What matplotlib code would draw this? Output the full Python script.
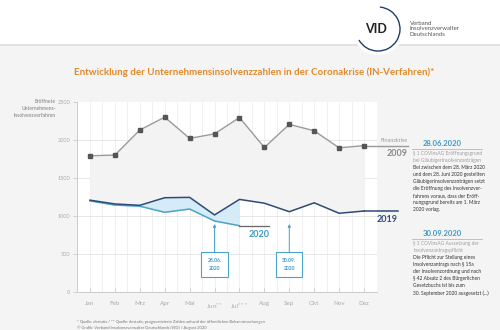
import numpy as np
import matplotlib.pyplot as plt
from matplotlib.patches import Rectangle, Circle, Arc

plt.rcParams['font.family'] = ['Lato', 'DejaVu Sans']

months = ['Jan', 'Feb', 'Mrz', 'Apr', 'Mai', 'Jun', 'Jul', 'Aug', 'Sep', 'Okt', 'Nov', 'Dez']
month_sup = ['', '', '', '', '', '**', '***', '', '', '', '', '']
v2009 = [1790, 1800, 2130, 2300, 2020, 2080, 2295, 1900, 2205, 2120, 1895, 1925]
v2019 = [1205, 1155, 1137, 1237, 1242, 1010, 1215, 1165, 1053, 1170, 1032, 1062]
v2020 = [1195, 1140, 1125, 1045, 1088, 930, 868]
events = [('28.06.\n2020', 6), ('30.09.\n2020', 9)]

W, H = 500, 330
def fx(x):
    return x / W
def fy(y):
    return 1 - y / H

fig = plt.figure(figsize=(5, 3.3), dpi=100)
fig.patch.set_facecolor('#f4f4f4')

# header band
fig.add_artist(Rectangle((0, fy(44)), 1, 44 / H, transform=fig.transFigure,
                         facecolor='white', edgecolor='none', zorder=0))
fig.add_artist(Rectangle((0, fy(46)), 1, 2 / H, transform=fig.transFigure,
                         facecolor='#e2e2e2', edgecolor='none', zorder=0))

x = np.arange(1, 13)
ax = fig.add_axes([fx(77), fy(291.5), fx(300), 189.5 / H])
ax.set_facecolor('white')
ax.set_xlim(0.48, 12.52)
ax.set_ylim(0, 2500)

for xv in np.arange(0.5, 12.6, 0.5):
    ax.axvline(xv, color='#ececec', lw=0.6, zorder=0)
for yv in [500, 1000, 1500, 2000]:
    ax.axhline(yv, color='#e4e4e4', lw=0.6, zorder=0)

# 2009
ax.fill_between(x, v2009, v2019, color='#f3f3f3', zorder=1, lw=0)
ax.plot(x, v2009, color='#9a9a9a', lw=1.0, zorder=3)
ax.plot(x, v2009, 's', color='#555555', ms=2.2, zorder=4)
ax.plot([12, 13.75], [v2009[-1], v2009[-1]], color='#9a9a9a', lw=1.0, clip_on=False)

# 2020 vs 2019
x20 = x[:len(v2020)]
ax.fill_between(x20, v2019[:len(v2020)], v2020, color='#d5ebf7', zorder=2, lw=0)
ax.plot(x20, v2020, color='#4aa3c8', lw=1.1, zorder=5)
ax.plot([7, 8.2], [v2020[-1], v2020[-1]], color='#666666', lw=0.9, zorder=5)
ax.plot(x, v2019, color='#2f4b75', lw=1.1, zorder=6)
ax.plot([12, 13.35], [v2019[-1], v2019[-1]], color='#2f4b75', lw=1.1, clip_on=False)

ax.text(8.2, v2020[-1] - 60, '2020', color='#3d9ac4', fontsize=6.5, fontweight='bold',
        ha='right', va='top')
ax.text(13.35, v2019[-1] - 50, '2019', color='#2f4b75', fontsize=6.5, fontweight='bold',
        ha='right', va='top', clip_on=False)
ax.text(13.75, v2009[-1] + 40, 'Finanzkrise', color='#999999', fontsize=4,
        ha='right', va='bottom', clip_on=False)
ax.text(13.75, v2009[-1] - 50, '2009', color='#888888', fontsize=6.5, fontweight='bold',
        ha='right', va='top', clip_on=False)

# event boxes
for lbl, m in events:
    ax.annotate('', xy=(m, 890), xytext=(m, 515),
                arrowprops=dict(arrowstyle='-|>', color='#4aa3c8', lw=0.7,
                                mutation_scale=4, shrinkA=0, shrinkB=0), zorder=7)
    ax.text(m, 355, lbl, ha='center', va='center', fontsize=3.6, fontweight='bold',
            color='#3d9ac4', linespacing=1.6, zorder=8,
            bbox=dict(boxstyle='square,pad=1.2', fc='white', ec='#4aa3c8', lw=0.8))

ax.set_yticks([0, 500, 1000, 1500, 2000, 2500])
ax.set_yticklabels(['0', '500', '1000', '1500', '2000', '2500'])
ax.set_xticks(x)
ax.set_xticklabels([m + ('$^{' + s + '}$' if s else '') for m, s in zip(months, month_sup)])
ax.tick_params(axis='y', colors='#cccccc', labelcolor='#aaaaaa', labelsize=4.0,
               length=3, width=0.6, pad=2)
ax.tick_params(axis='x', colors='#cccccc', labelcolor='#aaaaaa', labelsize=4.5,
               length=3, width=0.6, direction='in', pad=7)
for s in ['top', 'right']:
    ax.spines[s].set_visible(False)
ax.spines['left'].set_color('#cccccc')
ax.spines['bottom'].set_color('#cccccc')
ax.spines['left'].set_linewidth(0.7)
ax.spines['bottom'].set_linewidth(0.7)

fig.text(fx(56), fy(99), 'Eröffnete\nUnternehmens-\ninsolvenzverfahren', ha='right', va='top',
         fontsize=3.6, color='#999999', fontweight='bold', linespacing=1.5)

# title
fig.text(0.5 + fx(4), fy(72), 'Entwicklung der Unternehmensinsolvenzzahlen in der Coronakrise (IN-Verfahren)*',
         ha='center', va='center', fontsize=7.0, fontweight='bold', color='#e08a2c')

# logo
lax = fig.add_axes([fx(348), fy(59), 60 / W, 60 / H])
lax.set_zorder(3)
lax.set_xlim(-30, 30)
lax.set_ylim(-30, 30)
lax.set_aspect('equal')
lax.axis('off')
lax.add_patch(Circle((0, 0), 26, facecolor='white', edgecolor='none'))
lax.add_patch(Arc((0, 0), 44, 44, theta1=-150, theta2=85, color='#1f3f6e', lw=1.0))
lax.text(-2, 0, 'VID', ha='center', va='center', fontsize=9, fontweight='bold', color='#222222')
fig.text(fx(410), fy(29), 'Verband\nInsolvenzverwalter\nDeutschlands', ha='left', va='center',
         fontsize=4.3, color='#555555', linespacing=1.15, zorder=4)

# side notes
def note(y0, date, sub, body):
    fig.text(fx(442), fy(y0), date, ha='center', va='center', fontsize=5.5,
             fontweight='bold', color='#3d9ac4')
    fig.add_artist(plt.Line2D([fx(412), fx(482)], [fy(y0 + 6), fy(y0 + 6)],
                              transform=fig.transFigure, color='#8fc3dc', lw=0.6))
    fig.text(fx(413), fy(y0 + 8), sub, ha='left', va='top', fontsize=3.5,
             color='#a0a0a0', linespacing=1.5)
    fig.text(fx(413), fy(y0 + 22), body, ha='left', va='top', fontsize=3.5,
             color='#333333', linespacing=1.5)

note(143, '28.06.2020', '§ 1 COVInsAG Eröffnungsgrund\nbei Gläubigerinsolvenzanträgen',
     'Bei zwischen dem 28. März 2020\nund dem 28. Juni 2020 gestellten\n'
     'Gläubigerinsolvenzanträgen setzt\ndie Eröffnung des Insolvenzver-\n'
     'fahrens voraus, dass der Eröff-\nnungsgrund bereits am 1. März\n2020 vorlag.')
note(233, '30.09.2020', '§ 1 COVInsAG Aussetzung der\nInsolvenzantragspflicht',
     'Die Pflicht zur Stellung eines\nInsolvenzantrags nach § 15a\n'
     'der Insolvenzordnung und nach\n§ 42 Absatz 2 des Bürgerlichen\n'
     'Gesetzbuchs ist bis zum\n30. September 2020 ausgesetzt (...)')

# footer
fig.text(fx(77), fy(322), '* Quelle: destatis / ** Quelle: destatis, prognostizierte Zahlen anhand der '
         'öffentlichen Bekanntmachungen', fontsize=3.0, color='#777777', va='center')
fig.text(fx(77), fy(327.5), '© Grafik: Verband Insolvenzverwalter Deutschlands (VID) / August 2020',
         fontsize=3.0, color='#777777', va='center')

fig.savefig('out.png', dpi=100, facecolor=fig.get_facecolor())
